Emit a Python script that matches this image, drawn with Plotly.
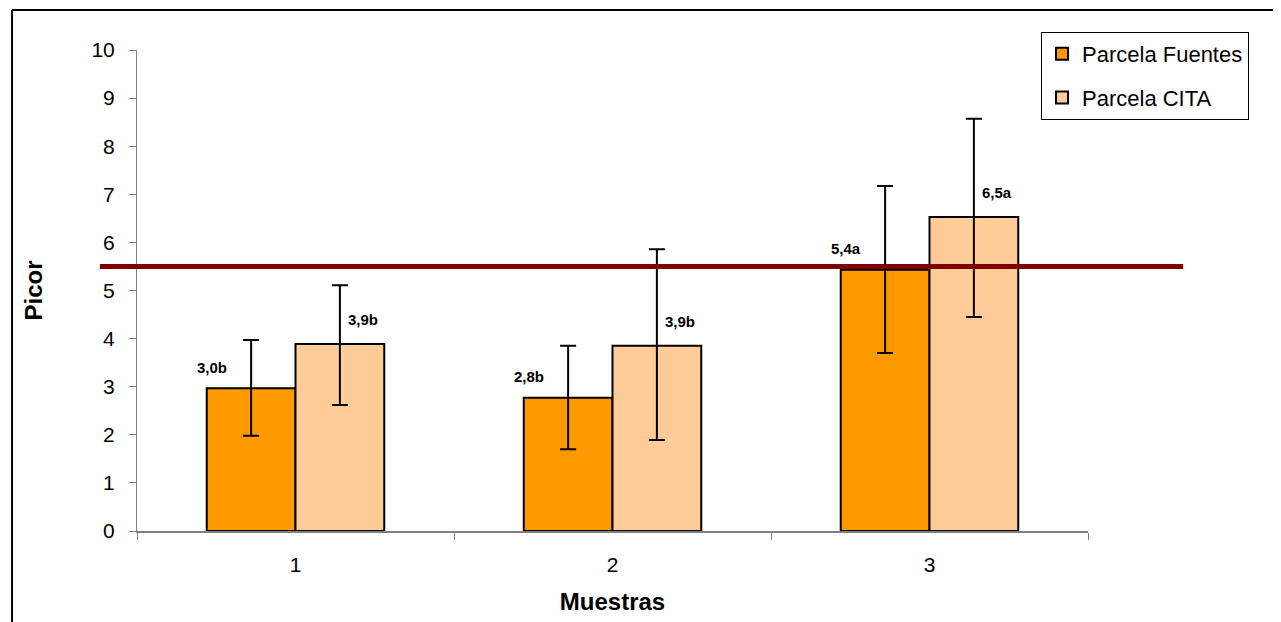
import plotly.graph_objects as go

categories = ["1", "2", "3"]
fuentes = [2.97, 2.77, 5.43]
cita = [3.89, 3.85, 6.53]
fuentes_err_up = [1.00, 1.08, 1.74]
fuentes_err_down = [0.99, 1.07, 1.73]
cita_err_up = [1.22, 2.01, 2.04]
cita_err_down = [1.27, 1.96, 2.08]
fuentes_labels = ["3,0b", "2,8b", "5,4a"]
cita_labels = ["3,9b", "3,9b", "6,5a"]
threshold = 5.5

FONT = "Liberation Sans, Arial, sans-serif"

fig = go.Figure()
fig.add_trace(go.Bar(
    x=categories, y=fuentes, name="Parcela Fuentes", legendgroup="a",
    marker=dict(color="#FF9900", line=dict(color="black", width=2)),
    error_y=dict(type="data", symmetric=False, array=fuentes_err_up,
                 arrayminus=fuentes_err_down, color="black", thickness=2, width=8),
))
fig.add_trace(go.Bar(
    x=categories, y=cita, name="Parcela CITA", legendgroup="b",
    marker=dict(color="#FFCC99", line=dict(color="black", width=2)),
    error_y=dict(type="data", symmetric=False, array=cita_err_up,
                 arrayminus=cita_err_down, color="black", thickness=2, width=8),
))

# threshold line
fig.add_shape(type="line", xref="paper", yref="y", x0=-0.039, x1=1.1,
              y0=threshold, y1=threshold, line=dict(color="#800000", width=5))

# value labels
for i in range(len(categories)):
    fig.add_annotation(x=i, y=fuentes[i], text="<b>" + fuentes_labels[i] + "</b>",
                       showarrow=False, xshift=-84, yshift=21,
                       font=dict(family=FONT, size=15, color="black"), yanchor="middle")
    fig.add_annotation(x=i, y=cita[i], text="<b>" + cita_labels[i] + "</b>",
                       showarrow=False, xshift=67, yshift=24,
                       font=dict(family=FONT, size=15, color="black"), yanchor="middle")

# outer frame (top and left edges)
fig.add_shape(type="line", xref="paper", yref="paper", x0=-0.1314, x1=1.21,
              y0=1.0832, y1=1.0832, line=dict(color="black", width=2))
fig.add_shape(type="line", xref="paper", yref="paper", x0=-0.1314, x1=-0.1314,
              y0=1.0832, y1=-0.25, line=dict(color="black", width=2))

fig.update_layout(
    width=1273, height=614,
    margin=dict(l=129, r=193, t=42, b=91),
    paper_bgcolor="white", plot_bgcolor="white",
    barmode="group", bargap=0.44, bargroupgap=0,
    font=dict(family=FONT, size=21, color="black"),
    showlegend=True,
    legend=dict(x=0.9506, y=1.0374, xanchor="left", yanchor="top",
                bordercolor="black", borderwidth=1, bgcolor="white",
                font=dict(family=FONT, size=22),
                traceorder="grouped", tracegroupgap=12),
    xaxis=dict(
        type="category", range=[-0.5, 2.5],
        showline=True, linecolor="#808080", linewidth=2,
        ticks="outside", ticklen=7, tickcolor="#808080", tickson="boundaries",
        tickfont=dict(size=21), ticklabelstandoff=14,
        title=dict(text="<b>Muestras</b>", font=dict(size=24), standoff=18),
        showgrid=False, zeroline=False,
    ),
    yaxis=dict(
        range=[0, 10], dtick=1,
        showline=True, linecolor="#808080", linewidth=1,
        ticks="outside", ticklen=7, tickcolor="#808080",
        tickfont=dict(size=21), ticklabelstandoff=10,
        title=dict(text="<b>Picor</b>", font=dict(size=24), standoff=42),
        showgrid=False, zeroline=False,
    ),
)

fig.write_html("out.html")
